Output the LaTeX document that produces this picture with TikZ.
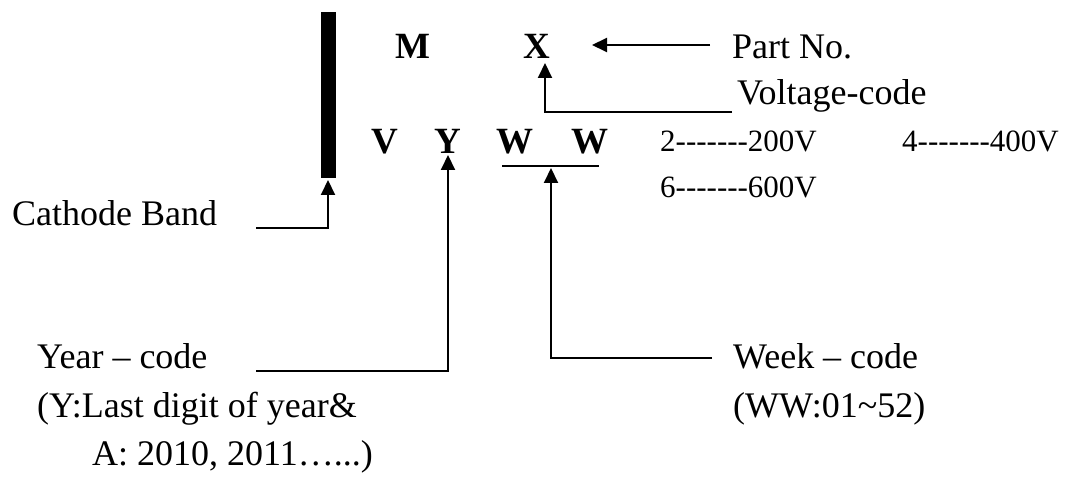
\documentclass[tikz,border=0pt]{standalone}
\usepackage{fontspec}
\setmainfont{Liberation Serif}
\newfontfamily\voltfont{Liberation Serif}[Ligatures=TeXOff]
\usetikzlibrary{arrows.meta}
\begin{document}
\begin{tikzpicture}[x=1pt,y=-1pt,
  lbl/.style={inner sep=0pt,anchor=base west,font=\fontsize{36}{40}\selectfont},
  code/.style={inner sep=0pt,anchor=base,font=\fontsize{37}{40}\selectfont\bfseries},
  volt/.style={inner sep=0pt,anchor=base west,font=\voltfont\fontsize{31}{36}\selectfont},
  conn/.style={line width=2pt},
  arr/.style={line width=2pt,-{Triangle[length=15pt,width=14pt]}}]
\useasboundingbox (0,0) rectangle (1070,478);
% band
\node[fill=black,inner sep=0pt,minimum width=15pt,minimum height=166pt,anchor=north west] (band) at (321,12) {};
% code letters
\node[code] (M) at (413,59) {M};
\node[code] (X) at (537,59) {X};
\node[code] (V) at (385,154) {V};
\node[code] (Y) at (448,154) {Y};
\node[code] (W1) at (515,154) {W};
\node[code] (W2) at (590,154) {W};
% labels
\node[lbl] (pn) at (732,59) {Part No.};
\node[lbl] (vc) at (737,105) {Voltage-code};
\node[volt] (v2) at (660,152) {2-------200V};
\node[volt] (v4) at (902,152) {4-------400V};
\node[volt] (v6) at (660,198) {6-------600V};
\node[lbl] (cb) at (12,226) {Cathode Band};
\node[lbl] (yc) at (37,368) {Year -- code};
\node[lbl] (yc2) at (37,417) {(Y:Last digit of year\&};
\node[lbl] (yc3) at (92,465) {A: 2010, 2011\dots...)};
\node[lbl] (wc) at (733,368) {Week -- code};
\node[lbl] (wc2) at (733,417) {(WW:01\textasciitilde52)};
% coordinates
\coordinate (pnS) at (710,45);
\coordinate (pnT) at (592,45);
\coordinate (vcS) at (732,112);
\coordinate (vcC) at (545,112);
\coordinate (vcT) at (545,63);
\coordinate (ulL) at (502,166);
\coordinate (ulR) at (599,166);
\coordinate (wS) at (712,358);
\coordinate (wC) at (551,358);
\coordinate (wT) at (551,168);
\coordinate (yS) at (256,371);
\coordinate (yC) at (448,371);
\coordinate (yT) at (448,155);
\coordinate (cS) at (256,228);
\coordinate (cC) at (328,228);
\coordinate (cT) at (328,180);
% connectors
\draw[arr] (pnS) -- (pnT);
\draw[arr] (vcS) -- (vcC) -- (vcT);
\draw[conn] (ulL) -- (ulR);
\draw[arr] (wS) -- (wC) -- (wT);
\draw[arr] (yS) -- (yC) -- (yT);
\draw[arr] (cS) -- (cC) -- (cT);
\end{tikzpicture}
\end{document}
